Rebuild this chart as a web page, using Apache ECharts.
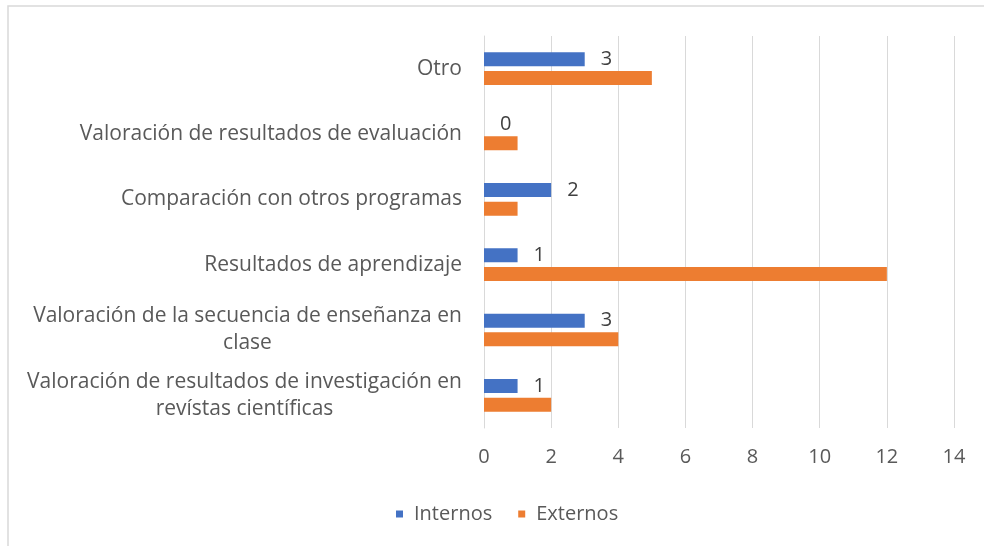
<!DOCTYPE html>
<html>
<head>
<meta charset="utf-8">
<script src="https://cdn.jsdelivr.net/npm/echarts@6/dist/echarts.min.js"></script>
<style>html,body{margin:0;padding:0;background:#fff;}#c{width:984px;height:546px;}</style>
</head>
<body>
<div id="c"></div>
<script>
// Categories from bottom to top
var categories = [
  "Valoración de resultados de investigación en\nrevístas científicas",
  "Valoración de la secuencia de enseñanza en\nclase",
  "Resultados de aprendizaje",
  "Comparación con otros programas",
  "Valoración de resultados de evaluación",
  "Otro"
];
var internos = [1, 3, 1, 2, 0, 3];
var externos = [2, 4, 12, 1, 1, 5];
var xTicks = [0, 2, 4, 6, 8, 10, 12, 14];

var FONT = 'Open Sans';
var CAT_SIZE = 21;
var ctx = document.createElement('canvas').getContext('2d');
ctx.font = CAT_SIZE + 'px "' + FONT + '"';
function blockWidth(v) {
  return Math.ceil(Math.max.apply(null, v.split('\n').map(function (p) { return ctx.measureText(p).width; })));
}
var richStyles = {};
categories.forEach(function (v, i) {
  richStyles['c' + i] = {fontFamily: FONT, fontSize: CAT_SIZE, color: '#595959', align: 'center',
    width: blockWidth(v), lineHeight: 27};
});

var chart = echarts.init(document.getElementById('c'), null, {renderer: 'canvas'});
chart.setOption({
  animation: false,
  backgroundColor: '#fff',
  textStyle: {fontFamily: FONT},
  graphic: [{
    type: 'rect', shape: {x: 8, y: 6, width: 1200, height: 800},
    style: {fill: 'none', stroke: '#d9d9d9', lineWidth: 1.5}, silent: true, z: -1
  }],
  legend: {
    data: ['Internos', 'Externos'],
    left: 391, top: 499,
    icon: 'rect', itemWidth: 7, itemHeight: 7, itemGap: 26,
    textStyle: {fontFamily: FONT, fontSize: 20, color: '#595959', padding: [0, 0, 0, 6]}
  },
  grid: {left: 484, right: 30, top: 36, bottom: 118, containLabel: false},
  xAxis: {
    type: 'value', min: xTicks[0], max: xTicks[xTicks.length - 1], interval: 2,
    axisLine: {show: false}, axisTick: {show: false},
    splitLine: {lineStyle: {color: '#d9d9d9', width: 1}},
    axisLabel: {fontFamily: FONT, fontSize: 20, color: '#595959', margin: 19}
  },
  yAxis: {
    type: 'category', data: categories,
    axisLine: {lineStyle: {color: '#d9d9d9', width: 1}},
    axisTick: {length: 5, lineStyle: {color: '#d9d9d9'}},
    axisLabel: {
      fontFamily: FONT, fontSize: CAT_SIZE, color: '#595959', margin: 22, lineHeight: 27,
      formatter: function (v, i) {
        if (v.indexOf('\n') < 0) return v;
        return v.split('\n').map(function (p) { return '{c' + i + '|' + p + '}'; }).join('\n');
      },
      rich: richStyles
    }
  },
  series: [
    {
      name: 'Internos', type: 'bar', data: internos, barWidth: 14, barGap: '33%',
      itemStyle: {color: '#4472c4'},
      label: {show: true, position: 'right', distance: 14, fontFamily: FONT, fontSize: 20, color: '#404040',
        backgroundColor: '#fff', padding: [1, 2]}
    },
    {
      name: 'Externos', type: 'bar', data: externos, barWidth: 14, barGap: '33%',
      itemStyle: {color: '#ed7d31'}
    }
  ]
});
</script>
</body>
</html>
